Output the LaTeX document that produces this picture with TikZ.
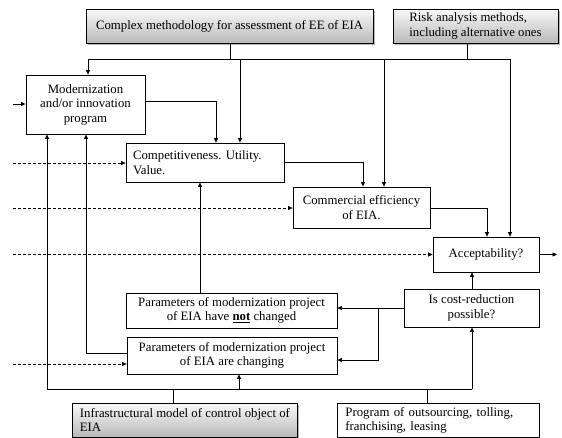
\documentclass[tikz,border=0pt]{standalone}
\usepackage{fontspec}
\setmainfont{Liberation Serif}
\usetikzlibrary{arrows.meta,shadows}
\begin{document}
\frenchspacing
\begin{tikzpicture}[x=1pt,y=-1pt,
  every node/.style={font=\fontsize{12.8}{14.5}\selectfont},
  box/.style={draw, line width=0.8pt, fill=white, inner sep=0pt, align=center},
  gbox/.style={draw, line width=0.8pt, top color=gray!5, bottom color=gray!55,
    drop shadow={shadow xshift=1.5pt, shadow yshift=-1.5pt, fill=gray!70, opacity=0.8},
    inner ysep=0pt, inner xsep=5pt, align=left},
  ln/.style={line width=0.65pt},
  tk/.style={line width=1pt},
  arr/.style={-{Triangle[length=4.5pt,width=4pt]}},
  dsh/.style={line width=0.65pt, dash pattern=on 3pt off 2pt}]
\clip (0,0) rectangle (562,437);
\fill[white] (0,0) rectangle (562,437);

% boxes
\node[gbox, minimum width=287pt, minimum height=34pt] (cmpx) at (229.5,26) {Complex methodology for assessment of EE of EIA};
\node[gbox, minimum width=165pt, minimum height=34pt] (risk) at (475.5,26) {Risk analysis methods,\\including alternative ones};
\node[box, minimum width=119pt, minimum height=59pt] (modp) at (85.5,104.5) {Modernization\\and/or innovation\\program};
\node[box, align=left, inner xsep=7pt, text width=144pt, minimum height=39pt] (comp) at (205,162.5) {Competitiveness. Utility.\\Value.};
\node[box, minimum width=137pt, minimum height=41pt] (comm) at (361.5,207.5) {Commercial efficiency\\of EIA.};
\node[box, minimum width=106pt, minimum height=35pt] (acc) at (486,254.5) {Acceptability?};
\node[box, minimum width=135pt, minimum height=38pt] (cost) at (471.5,308) {Is cost-reduction\\possible?};
\node[box, minimum width=211pt, minimum height=35pt] (notc) at (231.5,310.5) {Parameters of modernization project\\of EIA have \textbf{\underline{not}} changed};
\node[box, minimum width=210pt, minimum height=37pt] (chg) at (232,355.5) {Parameters of modernization project\\of EIA are changing};
\node[gbox, anchor=north west, minimum width=225pt, inner ysep=5pt] (infra) at (72,403) {Infrastructural model of control object of\\EIA};
\node[box, anchor=north west, align=left, inner xsep=8pt, inner ysep=4pt, text width=186pt] (prog) at (337,403) {Program of outsourcing, tolling,\\franchising, leasing};

% top bus
\coordinate (tl) at (88,59);
\coordinate (tr) at (510,59);
\coordinate (tc) at (230,59);
\coordinate (tk1) at (240,59);
\coordinate (tk2) at (384,59);
\coordinate (tri) at (467,59);
\draw[ln] (cmpx.south -| tc) -- (tc);
\draw[ln] (risk.south -| tri) -- (tri);
\draw[ln] (tl) -- (tr);
\draw[ln,arr] (tl) -- (modp.north -| tl);
\draw[tk,arr] (tk1) -- (comp.north -| tk1);
\draw[ln,arr] (tk2) -- (comm.north -| tk2);
\draw[ln,arr] (tr) -- (acc.north -| tr);

% inputs
\coordinate (inM) at (13,104);
\draw[tk,arr] (inM) -- (modp.west |- inM);
\coordinate (d1) at (13,163);
\coordinate (d2) at (13,208);
\coordinate (d3) at (13,254.5);
\coordinate (d4) at (13,364);
\draw[dsh,arr] (d1) -- (comp.west |- d1);
\draw[dsh,arr] (d2) -- (comm.west |- d2);
\draw[dsh,arr] (d3) -- (acc.west |- d3);
\draw[dsh,arr] (d4) -- (chg.west |- d4);

% flow
\draw[ln,arr] (modp.east |- 0,101) -| (comp.north -| 216,0);
\draw[tk,arr] (comp.east |- 0,162) -| (comm.north -| 363,0);
\draw[ln,arr] (comm.east |- 0,208) -| (acc.north -| 487,0);
\coordinate (out) at (557,254.5);
\draw[ln,arr] (acc.east) -- (out);
\draw[ln,arr] (cost.north -| 472,0) -- (acc.south -| 472,0);
\coordinate (sp) at (378,308);
\draw[ln] (cost.west |- sp) -- (sp);
\draw[ln,arr] (sp) -- (notc.east |- sp);
\draw[ln,arr] (sp) |- (chg.east |- 0,360);
\draw[ln,arr] (notc.north -| 200,0) -- (comp.south -| 200,0);
\draw[tk,arr] (chg.west |- 0,353) -| (modp.south -| 86,0);

% bottom bus
\coordinate (bl) at (47,389);
\coordinate (br) at (472,389);
\coordinate (bi) at (173,389);
\coordinate (bc) at (239,389);
\coordinate (bp) at (427,389);
\draw[tk] (bl) -- (br);
\draw[ln,arr] (bl) -- (modp.south -| bl);
\draw[ln,arr] (bc) -- (chg.south -| bc);
\draw[ln,arr] (br) -- (cost.south -| br);
\draw[ln] (infra.north -| bi) -- (bi);
\draw[ln] (prog.north -| bp) -- (bp);
\end{tikzpicture}
\end{document}
